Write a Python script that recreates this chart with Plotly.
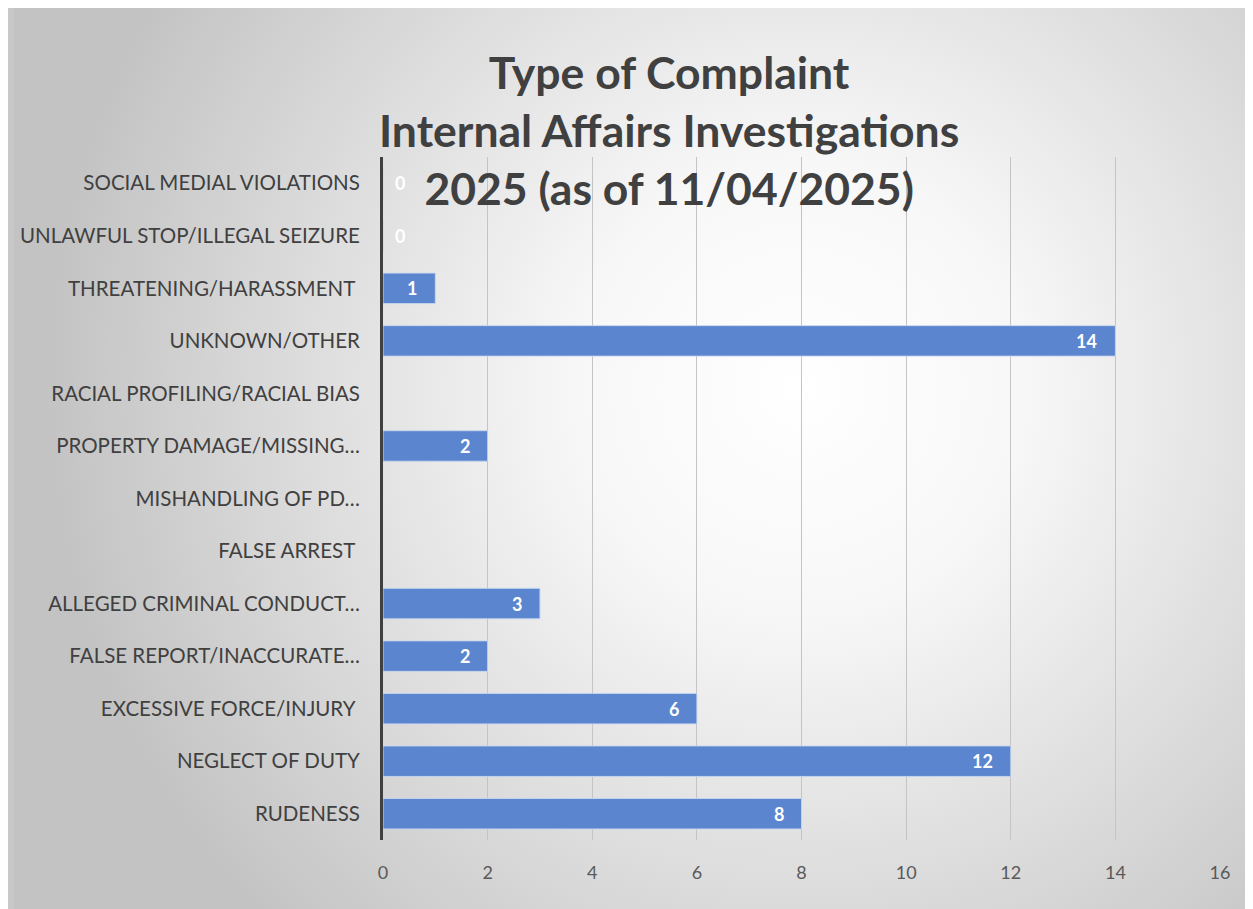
import base64
import plotly.graph_objects as go

categories = [
    "SOCIAL MEDIAL VIOLATIONS",
    "UNLAWFUL STOP/ILLEGAL SEIZURE",
    "THREATENING/HARASSMENT\u00a0",
    "UNKNOWN/OTHER",
    "RACIAL PROFILING/RACIAL BIAS",
    "PROPERTY DAMAGE/MISSING…",
    "MISHANDLING OF PD…",
    "FALSE ARREST\u00a0",
    "ALLEGED CRIMINAL CONDUCT…",
    "FALSE REPORT/INACCURATE…",
    "EXCESSIVE FORCE/INJURY\u00a0",
    "NEGLECT OF DUTY",
    "RUDENESS",
]
values = [0, 0, 1, 14, None, 2, None, None, 3, 2, 6, 12, 8]
x_ticks = [0, 2, 4, 6, 8, 10, 12, 14, 16]
title_lines = ["Type of Complaint", "Internal Affairs Investigations", "2025 (as of 11/04/2025)"]

# page body has an 8px margin; figure is sized to fit the window
OFF = 8
W, H = 1253 - OFF, 909 - OFF
L, R, T, B = 379 - OFF, 33, 157 - OFF, 69
pw, ph = W - L - R, H - T - B

svg = f'''<svg xmlns="http://www.w3.org/2000/svg" width="{W}" height="{H}" viewBox="0 0 {W} {H}" preserveAspectRatio="none">
<defs><radialGradient id="g" gradientUnits="userSpaceOnUse" cx="790" cy="380" r="760">
<stop offset="0" stop-color="#ffffff"/><stop offset="0.3" stop-color="#f7f7f7"/><stop offset="1" stop-color="#c3c3c3"/></radialGradient></defs>
<rect x="0" y="0" width="{W}" height="{H}" fill="url(#g)"/></svg>'''
src = "data:image/svg+xml;base64," + base64.b64encode(svg.encode()).decode()

fig = go.Figure()
fig.add_trace(go.Bar(
    x=values, y=categories, orientation="h",
    marker=dict(color="#5B85CE", line=dict(color="rgba(200,215,240,0.9)", width=1)),
    hoverinfo="x+y",
))

annotations = []
for c, v in zip(categories, values):
    if v is None:
        continue
    if v == 0:
        annotations.append(dict(x=0, y=c, xref="x", yref="y", text="<b>0</b>", showarrow=False,
                                xanchor="left", xshift=10, font=dict(family="Lato", size=18, color="white")))
    else:
        annotations.append(dict(x=v, y=c, xref="x", yref="y", text=f"<b>{v}</b>", showarrow=False,
                                xanchor="right", xshift=-16, font=dict(family="Lato", size=18, color="white")))

# chart title as a centred multi-line annotation
annotations.append(dict(text="<br>".join(title_lines), xref="paper", yref="paper",
                        x=(666 - OFF - L) / pw, y=(H - B - 35) / ph, xanchor="center", yanchor="top",
                        showarrow=False, align="center",
                        font=dict(family="Lato", size=44.5, color="#404040", weight="bold")))

fig.update_layout(
    width=W, height=H,
    margin=dict(l=L, r=R, t=T, b=B),
    paper_bgcolor="#c8c8c8", plot_bgcolor="rgba(0,0,0,0)",
    bargap=0.42,
    showlegend=False,
    images=[dict(source=src, xref="paper", yref="paper",
                 x=-L / pw, y=(H - B) / ph,
                 sizex=W / pw, sizey=H / ph,
                 sizing="stretch", xanchor="left", yanchor="top", layer="below")],
    annotations=annotations,
    xaxis=dict(range=[0, 16], tickvals=x_ticks, showgrid=True, gridcolor="#c4c4c4", gridwidth=1,
               zeroline=False, showline=False, ticks="",
               tickfont=dict(family="Lato", size=18, color="#595959"), ticklabelstandoff=20),
    yaxis=dict(autorange="reversed", showgrid=False, showline=True, linecolor="#404040", linewidth=3,
               ticks="", tickfont=dict(family="Lato", size=20.5, color="#404040"), ticklabelstandoff=16),
)
fig.write_html("out.html")
